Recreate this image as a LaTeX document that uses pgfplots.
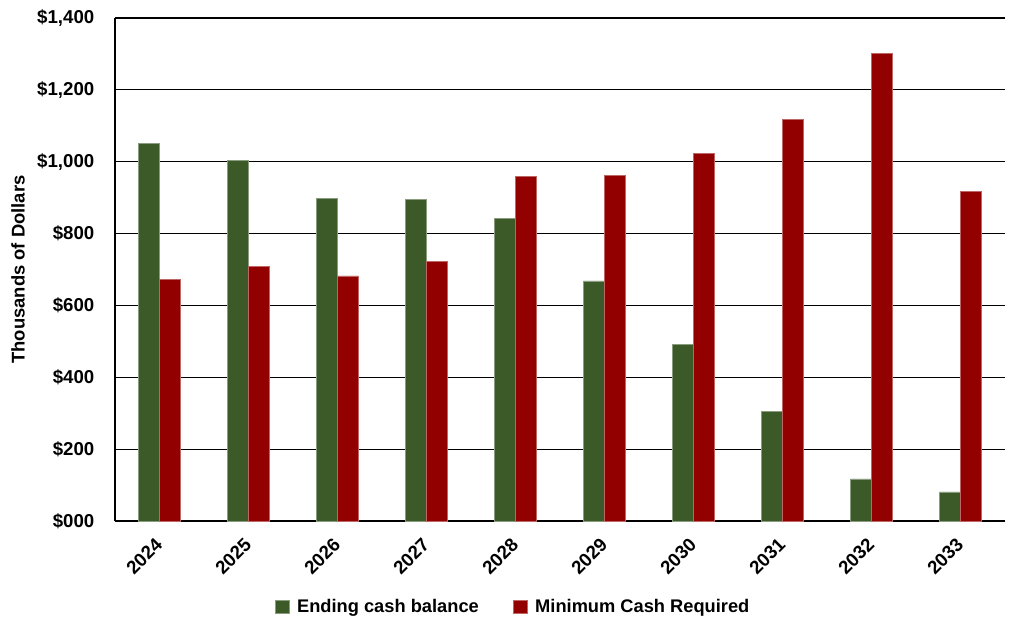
\documentclass[border=0pt]{standalone}
\usepackage{pgfplots}
\pgfplotsset{compat=1.18}
\usepackage{fontspec}
\setmainfont{Liberation Sans}
\definecolor{cgreen}{HTML}{3B5A27}
\definecolor{cred}{HTML}{930000}
\begin{document}
\begin{tikzpicture}
\path[use as bounding box] (-86.25pt,-75.75pt) rectangle ++(760.5pt,466.5pt);
\begin{axis}[
  at={(0pt,0pt)}, anchor=south west,
  scale only axis, width=667.5pt, height=377.25pt,
  xmin=-0.5, xmax=9.5, ymin=0, ymax=1400,
  xtick={0,...,9},
  xticklabels={2024,2025,2026,2027,2028,2029,2030,2031,2032,2033},
  ytick={0,200,...,1400},
  yticklabels={{\$000},{\$200},{\$400},{\$600},{\$800},{\$1,000},{\$1,200},{\$1,400}},
  ymajorgrids, grid style={black, line width=0.8pt},
  axis x line*=bottom, axis y line*=left,
  axis line style={black, line width=1pt, -},
  major tick length=0pt,
  tick label style={font=\bfseries\fontsize{14pt}{16pt}\selectfont},
  xticklabel style={xshift=2pt, yshift=-13pt, rotate=45, anchor=east},
  yticklabel style={xshift=-12pt},
  ylabel={\bfseries Thousands of Dollars},
  ylabel style={font=\fontsize{13.8pt}{15pt}\selectfont, at={(axis description cs:-0.109,0.5)}, anchor=center},
  ybar, bar width=15.75pt,
  legend style={at={(0.448,-0.171)}, anchor=center, draw=none, legend columns=2,
    font=\bfseries\fontsize{13.7pt}{16pt}\selectfont, column sep=4pt,
    /tikz/every even column/.append style={column sep=24pt}},
  legend image code/.code={\fill[#1] (0pt,-5pt) rectangle (10pt,5pt);},
  clip=false,
]
\addplot[fill=cgreen, draw=cgreen!60!white, line width=0.3pt, bar shift=-7.875pt] coordinates {
(0,1051) (1,1004) (2,899) (3,896) (4,843) (5,668) (6,492) (7,306) (8,117) (9,81)};
\addlegendentry{Ending cash balance}
\addplot[fill=cred, draw=cred!60!white, line width=0.3pt, bar shift=7.875pt] coordinates {
(0,673) (1,709) (2,682) (3,723) (4,960) (5,963) (6,1024) (7,1118) (8,1302) (9,918)};
\addlegendentry{Minimum Cash Required}
\end{axis}
\end{tikzpicture}
\end{document}
